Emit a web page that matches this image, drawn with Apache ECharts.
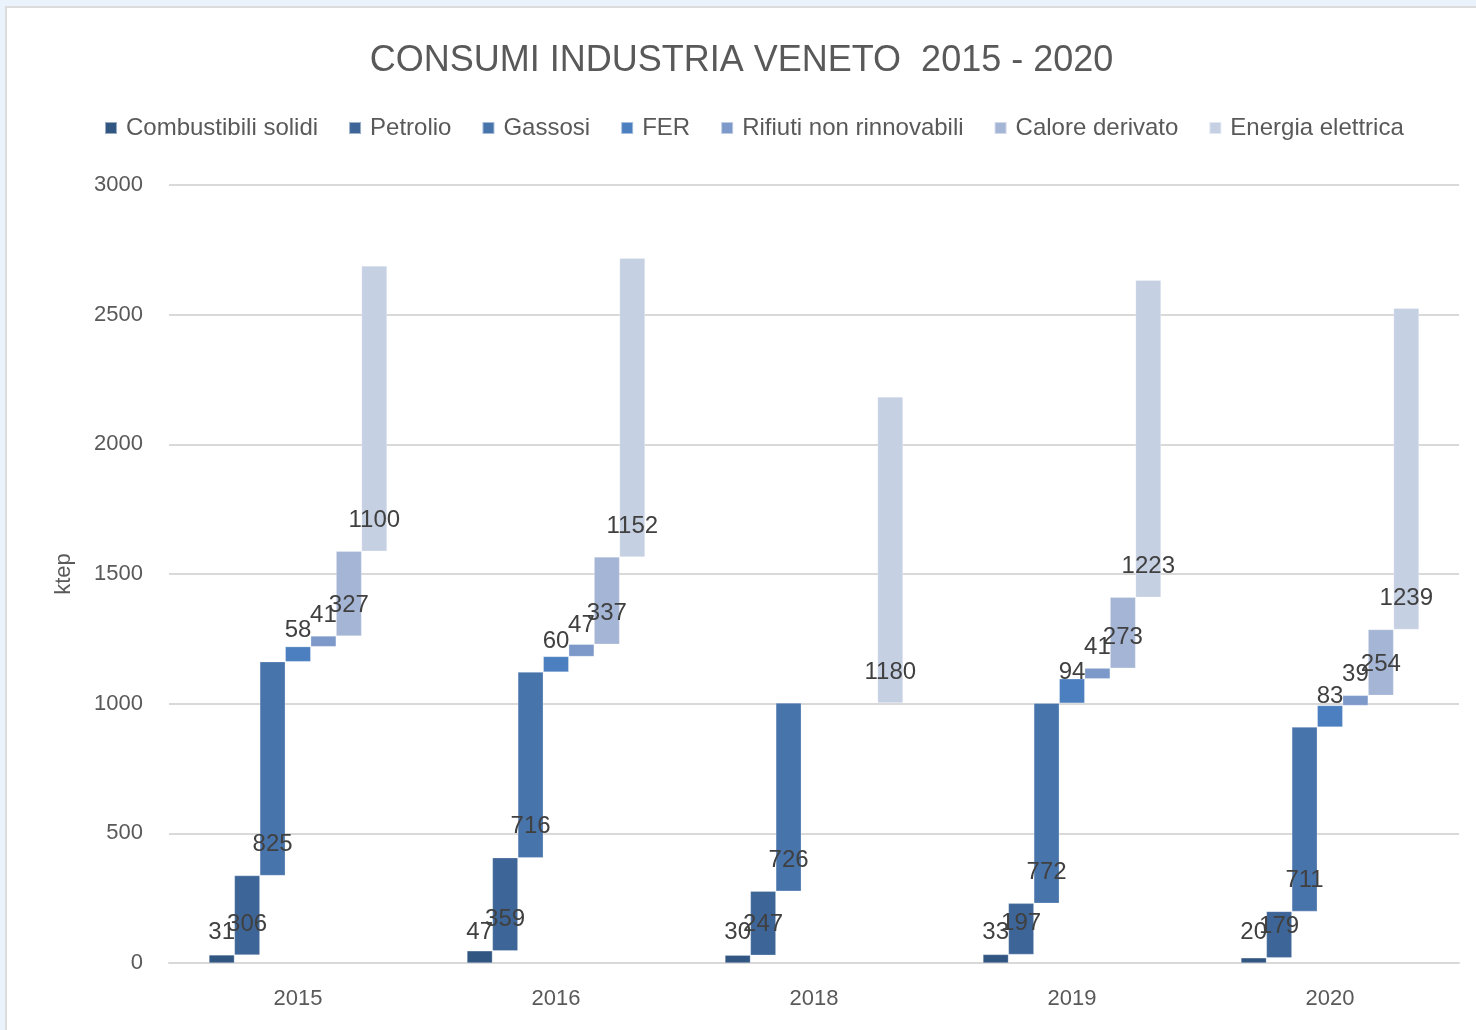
<!DOCTYPE html>
<html>
<head>
    <meta charset="utf-8"/>
    <title>Consumi industria Veneto</title>
    <script src="https://cdn.jsdelivr.net/npm/echarts@6/dist/echarts.min.js"></script>
    <style>
        body { margin: 0; background: #eaf2fb; }
        #main { position: absolute; left: 5px; top: 6px; width: 1469px; height: 1022px;
                background: #fff; border-left: 2px solid #dcdcdc; border-top: 2px solid #dcdcdc; }
    </style>
</head>
<body>

<div id="main"></div>

<script>
    // dati (ktep)
    var anni = ['2015', '2016', '2018', '2019', '2020'];
    var voci = ['Combustibili solidi', 'Petrolio', 'Gassosi', 'FER',
                'Rifiuti non rinnovabili', 'Calore derivato', 'Energia elettrica'];
    var colori = ['#325682', '#3d6597', '#4874ac', '#4b7fc0', '#7d99ca', '#a5b5d5', '#c5d0e3'];

    var combustibili = [31, 47, 30, 33, 20];
    var petrolio = [306, 359, 247, 197, 179];
    var gassosi = [825, 716, 726, 772, 711];
    var fer = [58, 60, null, 94, 83];
    var rifiuti = [41, 47, null, 41, 39];
    var calore = [327, 337, null, 273, 254];
    var elettrica = [1100, 1152, 1180, 1223, 1239];

    var valori = [combustibili, petrolio, gassosi, fer, rifiuti, calore, elettrica];

    var font = 'Liberation Sans, sans-serif';
    var series = [];
    var cumul = [0, 0, 0, 0, 0];

    // cascata: ogni voce parte dalla somma delle precedenti
    valori.forEach(function (arr, i) {
        var base = arr.map(function (v, j) { return v == null ? '-' : cumul[j]; });
        series.push({
            name: 'base' + i,
            type: 'bar',
            stack: 'g' + i,
            silent: true,
            itemStyle: { color: 'transparent' },
            data: base
        });
        series.push({
            name: voci[i],
            type: 'bar',
            stack: 'g' + i,
            barGap: '0%',
            barCategoryGap: '31%',
            itemStyle: { color: colori[i], borderColor: 'rgba(255,255,255,0.5)', borderWidth: 0.5 },
            label: {
                show: true,
                position: 'insideBottom',
                distance: 19,
                color: '#404040',
                fontFamily: font,
                fontSize: 24
            },
            data: arr.map(function (v) { return v == null ? '-' : v; })
        });
        arr.forEach(function (v, j) { if (v != null) cumul[j] += v; });
    });

    var myChart = echarts.init(document.getElementById('main'));

    var option = {
        animation: false,
        title: {
            text: 'CONSUMI INDUSTRIA VENETO  2015 - 2020',
            left: 'center',
            top: 30,
            textStyle: { color: '#595959', fontFamily: font, fontSize: 36, fontWeight: 'normal' }
        },
        legend: {
            data: voci,
            top: 103,
            left: 92,
            icon: 'rect',
            itemWidth: 12,
            itemHeight: 12,
            itemGap: 30,
            textStyle: { color: '#595959', fontFamily: font, fontSize: 24, padding: [0, 0, 0, 4] }
        },
        grid: { left: 162, right: 17, top: 177, bottom: 67, containLabel: false },
        xAxis: {
            type: 'category',
            data: anni,
            axisLine: { lineStyle: { color: '#d9d9d9', width: 2 } },
            axisTick: { show: false },
            axisLabel: { color: '#595959', fontFamily: font, fontSize: 22, margin: 25 }
        },
        yAxis: {
            type: 'value',
            min: 0,
            max: 3000,
            interval: 500,
            name: 'ktep',
            nameLocation: 'middle',
            nameGap: 94,
            nameTextStyle: { color: '#595959', fontFamily: font, fontSize: 22 },
            axisLine: { show: false },
            axisTick: { show: false },
            axisLabel: {
                color: '#595959', fontFamily: font, fontSize: 22, margin: 26,
                formatter: function (v) { return String(v); }
            },
            splitLine: { lineStyle: { color: '#d9d9d9', width: 2 } }
        },
        series: series
    };

    myChart.setOption(option);
</script>
</body>
</html>
